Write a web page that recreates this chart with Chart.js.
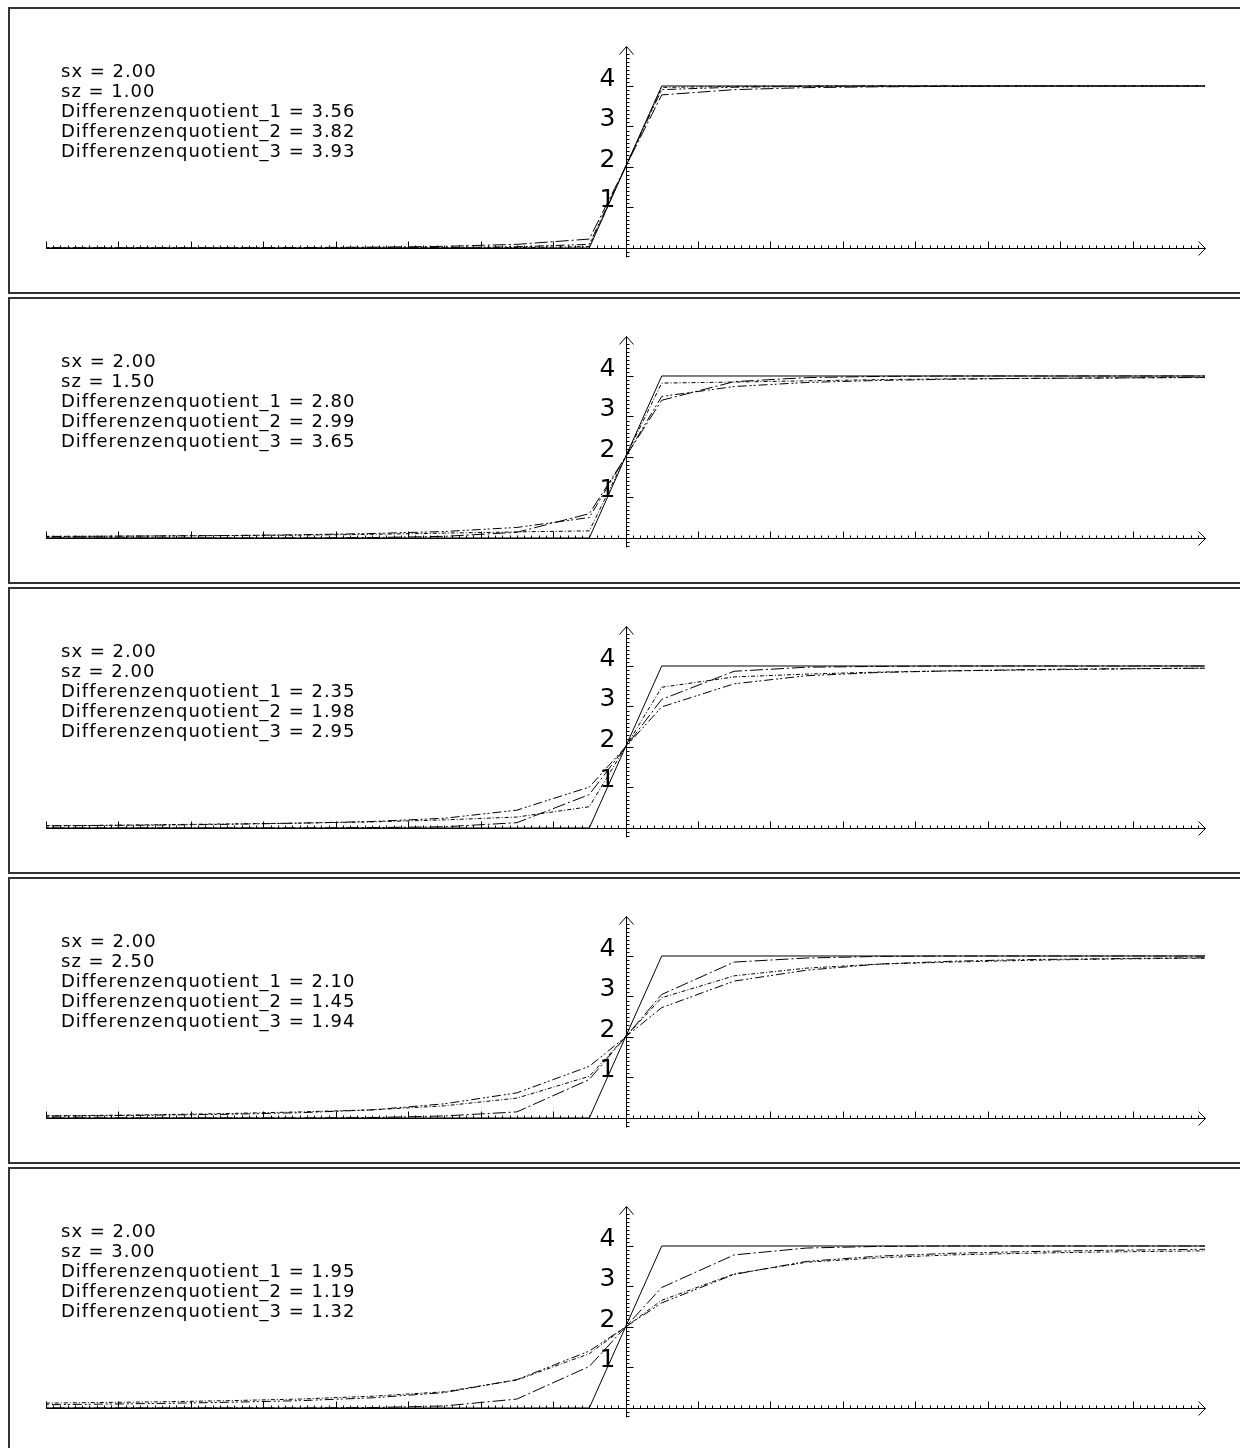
<!DOCTYPE html>
<html>
<head>
<meta charset="utf-8">
<script src="https://cdn.jsdelivr.net/npm/chart.js@4"></script>
<style>
html, body { margin: 0; padding: 0; background: #fff; overflow: hidden; }
body { width: 1240px; height: 1448px; position: relative; }
.panel { position: absolute; left: 8px; width: 1240px; height: 283px; border: 2px solid #333; background: #fff; }
.panel canvas { position: absolute; left: 0; top: 0; }
.info {
    position: absolute; left: 51px; top: 52px;
    font-family: "DejaVu Sans", sans-serif; font-size: 18px; line-height: 20px;
    letter-spacing: 1px; color: #000; white-space: pre;
}
</style>
</head>
<body>
<script>
// grid points (cell centres), the plot clips at -8 .. 8
const xs = [-8.5, -7.5, -6.5, -5.5, -4.5, -3.5, -2.5, -1.5, -0.5, 0.5, 1.5, 2.5, 3.5, 4.5, 5.5, 6.5, 7.5, 8.5];

// exact step, same in every panel
const exact = [0, 0, 0, 0, 0, 0, 0, 0, 0, 4, 4, 4, 4, 4, 4, 4, 4, 4];

// one row per panel (sz = 1.00, 1.50, 2.00, 2.50, 3.00)
const quotient1 = [
    [0, 0, 0, 0, 0.01, 0.02, 0.04, 0.09, 0.22, 3.78, 3.91, 3.96, 3.98, 3.99, 4, 4, 4, 4],
    [0, 0, 0, 0, 0, 0.01, 0.04, 0.14, 0.60, 3.40, 3.86, 3.96, 3.99, 4, 4, 4, 4, 4],
    [0, 0, 0, 0, 0, 0.01, 0.03, 0.13, 0.825, 3.175, 3.87, 3.97, 3.99, 4, 4, 4, 4, 4],
    [0, 0, 0, 0, 0, 0.01, 0.05, 0.15, 0.95, 3.05, 3.85, 3.95, 3.99, 4, 4, 4, 4, 4],
    [0, 0, 0, 0, 0, 0.01, 0.05, 0.22, 1.025, 2.975, 3.78, 3.95, 3.99, 4, 4, 4, 4, 4]
];
const quotient2 = [
    [0, 0, 0, 0, 0, 0, 0.01, 0.03, 0.09, 3.91, 3.97, 3.99, 4, 4, 4, 4, 4, 4],
    [0.03, 0.04, 0.05, 0.06, 0.08, 0.11, 0.16, 0.26, 0.505, 3.495, 3.74, 3.84, 3.89, 3.92, 3.94, 3.95, 3.96, 3.97],
    [0.05, 0.06, 0.07, 0.09, 0.12, 0.16, 0.24, 0.44, 1.01, 2.99, 3.56, 3.76, 3.84, 3.88, 3.91, 3.93, 3.94, 3.95],
    [0.04, 0.05, 0.07, 0.09, 0.13, 0.20, 0.35, 0.62, 1.275, 2.725, 3.38, 3.65, 3.80, 3.87, 3.91, 3.93, 3.95, 3.96],
    [0.07, 0.09, 0.11, 0.14, 0.18, 0.25, 0.38, 0.70, 1.405, 2.595, 3.30, 3.62, 3.75, 3.82, 3.86, 3.89, 3.91, 3.93]
];
const quotient3 = [
    [0, 0, 0, 0, 0, 0, 0, 0.01, 0.035, 3.965, 3.99, 4, 4, 4, 4, 4, 4, 4],
    [0.04, 0.04, 0.05, 0.06, 0.07, 0.09, 0.12, 0.15, 0.175, 3.825, 3.85, 3.88, 3.91, 3.93, 3.94, 3.95, 3.96, 3.96],
    [0.05, 0.06, 0.08, 0.10, 0.12, 0.15, 0.20, 0.27, 0.525, 3.475, 3.73, 3.80, 3.85, 3.88, 3.90, 3.92, 3.94, 3.95],
    [0.05, 0.06, 0.08, 0.11, 0.15, 0.20, 0.30, 0.49, 1.03, 2.97, 3.51, 3.70, 3.80, 3.85, 3.89, 3.92, 3.94, 3.95],
    [0.11, 0.13, 0.15, 0.18, 0.22, 0.29, 0.40, 0.69, 1.34, 2.66, 3.31, 3.60, 3.71, 3.78, 3.82, 3.85, 3.87, 3.89]
];

const sxLabels = ['2.00', '2.00', '2.00', '2.00', '2.00'];
const szLabels = ['1.00', '1.50', '2.00', '2.50', '3.00'];
const dq1Labels = ['3.56', '2.80', '2.35', '2.10', '1.95'];
const dq2Labels = ['3.82', '2.99', '1.98', '1.45', '1.19'];
const dq3Labels = ['3.93', '3.65', '2.95', '1.94', '1.32'];

const yTicks = [1, 2, 3, 4];

// axes through the origin with minor ticks every 0.1 and arrow heads
const crossAxes = {
    id: 'crossAxes',
    beforeDatasetsDraw(chart) {
        const ctx = chart.ctx;
        const x = chart.scales.x;
        const y = chart.scales.y;
        const px = v => Math.round(x.getPixelForValue(v)) + 0.5;
        const py = v => Math.round(y.getPixelForValue(v)) + 0.5;
        const x0 = px(0);
        const y0 = py(0);
        const left = px(-8);
        const right = px(8);
        const top = py(5);

        ctx.save();
        ctx.strokeStyle = '#000';
        ctx.lineWidth = 1;
        ctx.beginPath();
        ctx.moveTo(left, y0);
        ctx.lineTo(right, y0);
        ctx.moveTo(right - 7, y0 - 7);
        ctx.lineTo(right, y0);
        ctx.lineTo(right - 7, y0 + 7);
        for (let i = -80; i < 80; i++) {
            if (i === 0) continue;
            const tx = px(i / 10);
            ctx.moveTo(tx, y0);
            ctx.lineTo(tx, y0 - (i % 10 === 0 ? 7 : 3));
        }
        ctx.moveTo(x0, py(-0.22));
        ctx.lineTo(x0, top);
        ctx.moveTo(x0 - 7, top + 8);
        ctx.lineTo(x0, top);
        ctx.lineTo(x0 + 7, top + 8);
        for (let j = -2; j < 49; j++) {
            if (j === 0) continue;
            const ty = py(j / 10);
            ctx.moveTo(x0, ty);
            ctx.lineTo(x0 + (j % 10 === 0 ? 7 : 3), ty);
        }
        ctx.stroke();

        ctx.fillStyle = '#000';
        ctx.font = '25px "DejaVu Sans"';
        ctx.textAlign = 'right';
        ctx.textBaseline = 'alphabetic';
        yTicks.forEach(t => ctx.fillText(String(t), x0 - 11, py(t) - 1));
        ctx.restore();
    }
};

function series(values, dash) {
    return {
        data: xs.map((v, i) => ({ x: v, y: values[i] })),
        borderColor: '#000',
        borderWidth: 1,
        borderDash: dash,
        pointRadius: 0,
        tension: 0,
        fill: false
    };
}

szLabels.forEach((sz, p) => {
    const panel = document.createElement('div');
    panel.className = 'panel';
    panel.style.top = (7 + 290 * p) + 'px';
    document.body.appendChild(panel);

    const canvas = document.createElement('canvas');
    canvas.width = 1240;
    canvas.height = 283;
    panel.appendChild(canvas);

    const info = document.createElement('div');
    info.className = 'info';
    info.textContent = 'sx = ' + sxLabels[p] + '\n' +
        'sz = ' + sz + '\n' +
        'Differenzenquotient_1 = ' + dq1Labels[p] + '\n' +
        'Differenzenquotient_2 = ' + dq2Labels[p] + '\n' +
        'Differenzenquotient_3 = ' + dq3Labels[p];
    panel.appendChild(info);

    new Chart(canvas.getContext('2d'), {
        type: 'line',
        data: {
            datasets: [
                series(exact, []),
                series(quotient1[p], [13, 3, 2, 3]),
                series(quotient2[p], [9, 3, 2, 2, 2, 3]),
                series(quotient3[p], [4, 2, 1, 2])
            ]
        },
        options: {
            responsive: false,
            animation: false,
            devicePixelRatio: 1,
            layout: { padding: { left: 36, right: 45, top: 36.5, bottom: 33.9 } },
            scales: {
                x: { type: 'linear', min: -8, max: 8, display: false },
                y: { type: 'linear', min: -0.25, max: 5, display: false }
            },
            plugins: { legend: { display: false }, tooltip: { enabled: false } }
        },
        plugins: [crossAxes]
    });
});
</script>
</body>
</html>
